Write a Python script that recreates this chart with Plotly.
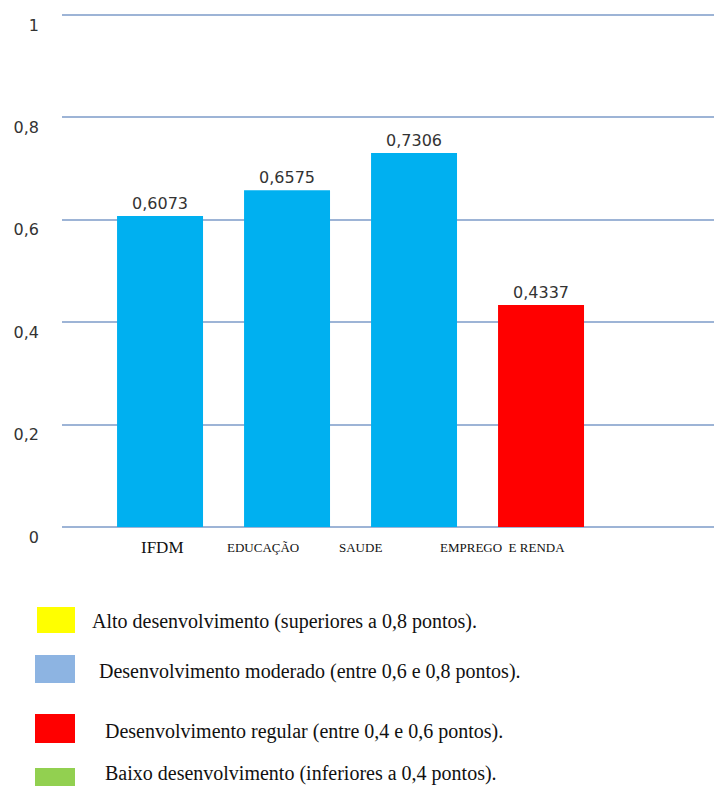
import plotly.graph_objects as go

# ---- data ----
categories = ["IFDM", "EDUCAÇÃO", "SAUDE", "EMPREGO  E RENDA"]
values = [0.6073, 0.6575, 0.7306, 0.4337]
bar_colors = ["#00B0F0", "#00B0F0", "#00B0F0", "#FF0000"]
y_ticks = [0, 0.2, 0.4, 0.6, 0.8, 1]

legend_labels = [
    "Alto desenvolvimento (superiores a 0,8 pontos).",
    "Desenvolvimento moderado (entre 0,6 e 0,8 pontos).",
    "Desenvolvimento regular (entre 0,4 e 0,6 pontos).",
    "Baixo desenvolvimento (inferiores a 0,4 pontos).",
]
legend_colors = ["#FFFF00", "#8DB4E2", "#FF0000", "#92D050"]

# ---- styles / layout helpers ----
W, H = 714, 786
L, R, T, B = 62, 0, 14, 258
PW, PH = W - L - R, H - T - B

def px_x(px):
    return (px - L) / PW

def px_y(py):
    return (H - B - py) / PH

label_sizes = [17, 13, 13, 13]
label_xshift = [2, -24, -54, -39]

fig = go.Figure()
fig.add_trace(go.Bar(
    x=categories, y=values,
    marker=dict(color=bar_colors, line=dict(width=0)),
    width=0.677,
    texttemplate="%{y:.4f}", textposition="outside",
    textfont=dict(family="DejaVu Sans", size=16, color="#333333"),
    cliponaxis=False, showlegend=False,
))

annotations = []
for c, s, dx in zip(categories, label_sizes, label_xshift):
    annotations.append(dict(
        x=c, y=0, xref="x", yref="y", text=c, showarrow=False,
        yshift=-21, xshift=dx, xanchor="center", yanchor="middle",
        font=dict(family="Liberation Serif", size=s, color="#111111"),
    ))

sq_boxes = [(37, 75, 607, 633), (35, 75, 655, 683), (35, 75, 714, 743), (35, 75, 768, 796)]
text_pos = [(90, 621), (97, 671), (103, 731), (103, 773)]
shapes = []
for (x0, x1, y0, y1), col in zip(sq_boxes, legend_colors):
    shapes.append(dict(type="rect", xref="paper", yref="paper",
                       x0=px_x(x0), x1=px_x(x1), y0=px_y(y1), y1=px_y(y0),
                       fillcolor=col, line=dict(width=0), layer="above"))
for (tx, ty), lab in zip(text_pos, legend_labels):
    annotations.append(dict(
        x=px_x(tx), y=px_y(ty), xref="paper", yref="paper", text=lab,
        showarrow=False, xanchor="left", yanchor="middle",
        font=dict(family="Liberation Serif", size=20, color="#111111"),
    ))

fig.update_layout(
    width=W, height=H,
    margin=dict(l=L, r=R, t=T, b=B, pad=0),
    paper_bgcolor="white", plot_bgcolor="white",
    separators=",.",
    xaxis=dict(type="category", range=[-0.772, 4.362], showticklabels=False,
               showgrid=False, showline=False, zeroline=False, fixedrange=True),
    yaxis=dict(range=[-0.002, 1.002], tickvals=y_ticks, showgrid=True,
               gridcolor="#9DB4D6", gridwidth=2,
               zeroline=True, zerolinecolor="#9DB4D6", zerolinewidth=2,
               showline=False,
               ticks="", ticklabelstandoff=22, ticklabelshift=10,
               tickfont=dict(family="DejaVu Sans", size=16, color="#333333")),
    annotations=annotations, shapes=shapes,
    bargap=0.3,
)

fig.write_html("out.html")
